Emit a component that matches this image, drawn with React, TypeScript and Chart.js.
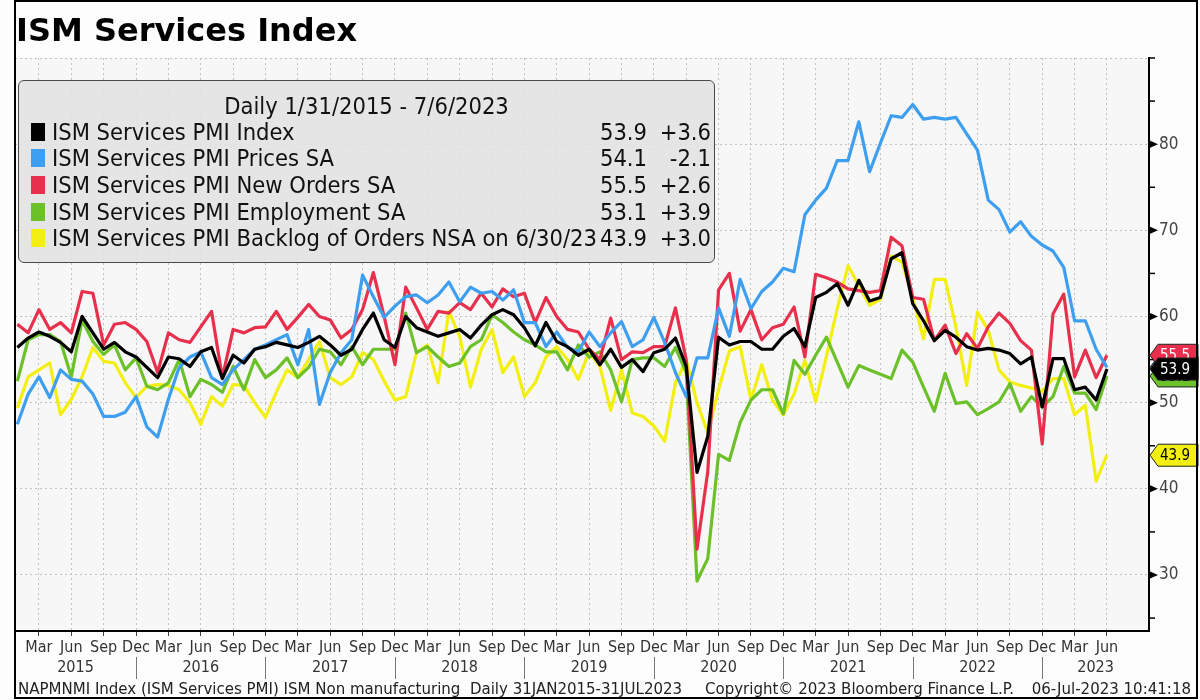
import React, { useEffect, useRef } from "react";
import { Chart, registerables } from "chart.js";

Chart.register(...registerables);

const FONT = "'DejaVu Sans Condensed', 'DejaVu Sans', sans-serif";

// ---- tick / label data ----
const QUARTER_MONTHS = ["Mar", "Jun", "Sep", "Dec"];
const YEARS = ["2015", "2016", "2017", "2018", "2019", "2020", "2021", "2022", "2023"];
const Y_TICK_LABELS = [30, 40, 50, 60, 70, 80];

// ---- series (monthly, Jan 2015 .. Jun 2023) ----
const INDEX = [
  56.4, 57.5, 58.2, 57.7, 57.0, 55.9, 60.0, 58.1, 56.2, 57.0, 55.9, 55.3,
  54.1, 52.9, 55.3, 55.1, 54.2, 55.9, 56.4, 52.8, 55.5, 54.6, 56.2, 56.5,
  57.0, 56.7, 56.4, 57.0, 57.7, 56.7, 55.5, 56.2, 58.5, 60.4, 57.3, 56.4,
  60.0, 58.7, 58.2, 57.7, 58.1, 58.5, 57.5, 59.0, 60.2, 60.8, 60.2, 58.7,
  56.6, 59.3, 57.1, 56.5, 55.5, 56.2, 54.4, 56.2, 54.1, 55.0, 53.6, 55.8,
  56.2, 57.5, 54.2, 41.9, 46.1, 57.6, 56.7, 57.1, 57.1, 56.2, 56.2, 57.7,
  58.6, 56.5, 62.2, 62.8, 63.8, 61.3, 64.2, 61.8, 62.2, 66.7, 67.4, 61.5,
  59.5, 57.2, 58.4, 57.6, 56.5, 56.1, 56.3, 56.1, 55.7, 54.5, 55.3, 49.5,
  55.1, 55.1, 51.5, 51.8, 50.3, 53.9,
];
const PRICES = [
  47.5, 51.0, 53.0, 50.6, 53.8, 52.7, 52.5, 51.0, 48.4, 48.4, 48.9, 50.7,
  47.2, 46.0, 50.4, 54.1, 55.3, 55.9, 52.9, 52.1, 53.8, 55.0, 56.2, 56.7,
  57.3, 57.9, 54.4, 58.5, 49.8, 53.5, 55.8, 57.3, 64.8, 62.3, 59.9, 61.2,
  62.3, 62.5, 61.6, 62.5, 64.0, 61.7, 63.4, 62.7, 62.9, 61.9, 63.1, 59.3,
  59.3, 56.5, 58.2, 56.4, 55.9, 58.2, 56.5, 58.1, 59.4, 56.5, 57.3, 59.9,
  57.0, 53.5, 50.7, 55.2, 55.2, 61.0, 57.7, 64.3, 60.9, 62.9, 64.0, 65.6,
  65.2, 71.8, 73.5, 74.9, 78.1, 78.1, 82.6, 76.8, 80.1, 83.3, 83.1, 84.6,
  82.9, 83.1, 82.9, 83.1, 81.2, 79.3, 73.5, 72.4, 69.8, 71.0, 69.3, 68.3,
  67.6, 65.7, 59.5, 59.5, 56.2, 54.1,
];
const NEW_ORDERS = [
  59.1, 58.1, 60.8, 58.5, 59.3, 58.1, 62.9, 62.7, 56.7, 59.1, 59.3, 58.5,
  57.1, 53.5, 58.1, 57.3, 57.0, 58.8, 60.6, 52.9, 58.5, 58.1, 58.7, 58.8,
  60.6, 58.5, 59.9, 61.4, 60.0, 59.6, 57.5, 58.5, 60.8, 65.1, 60.0, 54.4,
  63.4, 61.0, 58.5, 60.6, 60.4, 61.6, 60.8, 62.7, 61.1, 63.2, 62.3, 62.7,
  59.3, 62.2, 60.0, 58.5, 58.2, 56.2, 55.0, 59.8, 55.0, 55.9, 55.8, 56.5,
  56.5, 61.0, 55.0, 33.0, 42.0, 63.1, 65.0, 58.3, 60.8, 57.3, 58.7, 59.1,
  61.1, 55.3, 64.9, 64.5, 64.0, 63.2, 63.0, 62.8, 63.0, 69.2, 68.2, 62.2,
  62.0, 57.2, 59.0, 55.7, 58.0, 56.3, 58.8, 60.4, 59.2, 57.2, 56.1, 45.2,
  60.3, 62.6, 53.0, 56.1, 52.9, 55.5,
];
const EMPLOYMENT = [
  52.5, 57.3, 57.9, 57.9, 57.1, 53.0, 59.6, 57.1, 55.6, 56.7, 53.8, 55.2,
  51.9, 51.5, 52.3, 55.0, 50.7, 52.7, 52.1, 51.2, 54.2, 51.5, 55.0, 52.9,
  53.8, 55.2, 52.9, 54.1, 56.2, 55.9, 54.4, 56.5, 54.4, 56.2, 56.2, 56.2,
  60.4, 55.8, 56.5, 55.3, 54.2, 54.6, 56.5, 57.3, 60.2, 59.3, 58.2, 57.3,
  56.7, 55.9, 55.9, 53.8, 56.7, 55.3, 55.9, 53.8, 50.1, 55.0, 55.2, 55.2,
  54.2, 56.4, 53.5, 29.3, 31.9, 44.0, 43.3, 47.7, 50.3, 51.5, 51.5, 48.7,
  54.9, 53.3, 55.5, 57.6, 54.7, 51.8, 54.3, 53.8, 53.3, 52.8, 56.1, 54.7,
  51.8, 49.0, 53.4, 49.9, 50.1, 48.6, 49.3, 50.1, 52.2, 49.0, 50.7, 49.5,
  50.7, 54.2, 51.1, 51.1, 49.2, 53.1,
];
const BACKLOG = [
  49.4, 53.0, 53.8, 54.6, 48.6, 50.4, 53.0, 56.4, 54.8, 54.6, 52.3, 50.6,
  51.9, 52.1, 52.0, 51.5, 50.0, 47.5, 50.7, 49.6, 52.1, 52.0, 50.0, 48.3,
  51.2, 53.8, 52.9, 55.0, 57.1, 52.9, 52.1, 53.0, 55.8, 55.0, 52.5, 50.3,
  50.7, 55.8, 56.7, 52.3, 60.6, 57.7, 51.8, 56.2, 58.5, 53.5, 55.3, 50.7,
  52.3, 55.3, 56.5, 55.0, 52.7, 55.9, 54.2, 49.1, 53.8, 48.8, 48.4, 47.3,
  45.5, 52.3, 55.0, 50.0, 46.5, 51.5, 56.0, 56.5, 50.3, 54.4, 50.3, 48.6,
  51.0, 54.9, 50.1, 55.4, 60.9, 65.9, 63.6, 61.3, 62.0, 67.0, 66.3, 62.2,
  57.4, 64.3, 64.3, 58.8, 52.0, 60.5, 58.4, 53.8, 52.4, 52.0, 51.7, 51.3,
  52.8, 52.8, 48.6, 49.7, 40.9, 43.9,
];

const SERIES_NAMES = [
  "ISM Services PMI Index",
  "ISM Services PMI Prices SA",
  "ISM Services PMI New Orders SA",
  "ISM Services PMI Employment SA",
  "ISM Services PMI Backlog of Orders NSA on 6/30/23",
];
const LAST_VALUES = ["53.9", "54.1", "55.5", "53.1", "43.9"];
const CHANGES = ["+3.6", "-2.1", "+2.6", "+3.9", "+3.0"];

const SERIES_COLORS = ["#000000", "#3e9ff0", "#e8304d", "#6cc02a", "#f3ef12"];
const TAG_TEXT_COLORS = ["#ffffff", "#ffffff", "#ffffff", "#000000", "#000000"];
const TAG_DRAW_ORDER = [1, 3, 2, 0, 4];

const SERIES = [INDEX, PRICES, NEW_ORDERS, EMPLOYMENT, BACKLOG];
const LAST_INDEX = INDEX.length - 1;
const QUARTER_TICKS: number[] = [];
for (let i = 2; i <= LAST_INDEX; i += 3) QUARTER_TICKS.push(i);

const decorPlugin = {
  id: "decor",
  beforeDraw(chart: any) {
    const { ctx, chartArea: a, width, height } = chart;
    ctx.save();
    ctx.fillStyle = "#fdfdfd";
    ctx.fillRect(0, 0, width, height);
    ctx.fillStyle = "#f7f7f7";
    ctx.fillRect(a.left, a.top, a.right - a.left, a.bottom - a.top);
    ctx.restore();
  },
  afterDraw(chart: any) {
    const { ctx, chartArea: a } = chart;
    const ys = chart.scales.y;
    const xs = chart.scales.x;
    ctx.save();

    // right-axis tick marks
    ctx.fillStyle = "#000";
    ctx.strokeStyle = "#000";
    ctx.lineWidth = 1.5;
    for (let v = 25; v <= 90; v += 5) {
      const y = ys.getPixelForValue(v);
      if (Y_TICK_LABELS.includes(v)) {
        ctx.beginPath();
        ctx.moveTo(a.right, y - 4);
        ctx.lineTo(a.right + 9, y);
        ctx.lineTo(a.right, y + 4);
        ctx.closePath();
        ctx.fill();
      } else {
        ctx.beginPath();
        ctx.moveTo(a.right, y);
        ctx.lineTo(a.right + 6, y);
        ctx.stroke();
      }
    }

    // year row
    const seps: number[] = [];
    for (let k = 0; k < YEARS.length - 1; k++) seps.push(xs.getPixelForValue(11 + 12 * k));
    const bounds = [a.left, ...seps, a.right];
    ctx.fillStyle = "#333";
    ctx.font = `16px ${FONT}`;
    ctx.textAlign = "center";
    ctx.textBaseline = "middle";
    YEARS.forEach((yr, k) => ctx.fillText(yr, (bounds[k] + bounds[k + 1]) / 2, a.bottom + 37));
    ctx.strokeStyle = "#777";
    ctx.lineWidth = 1;
    seps.forEach((x) => {
      const px = Math.round(x) + 0.5;
      ctx.beginPath();
      ctx.moveTo(px, a.bottom + 26);
      ctx.lineTo(px, a.bottom + 48);
      ctx.stroke();
    });

    // last-value tags
    ctx.font = `15px ${FONT}`;
    ctx.textAlign = "left";
    TAG_DRAW_ORDER.forEach((k) => {
      const vals = SERIES[k];
      const y = ys.getPixelForValue(vals[vals.length - 1]);
      const x0 = a.right + 1;
      ctx.beginPath();
      ctx.moveTo(x0, y);
      ctx.lineTo(x0 + 8, y - 11);
      ctx.lineTo(1198, y - 11);
      ctx.lineTo(1198, y + 11);
      ctx.lineTo(x0 + 8, y + 11);
      ctx.closePath();
      ctx.fillStyle = SERIES_COLORS[k];
      ctx.fill();
      ctx.strokeStyle = "#222";
      ctx.lineWidth = 1;
      ctx.stroke();
      ctx.fillStyle = TAG_TEXT_COLORS[k];
      ctx.fillText(LAST_VALUES[k], x0 + 10, y + 1);
    });

    // outer frame
    ctx.strokeStyle = "#000";
    ctx.lineWidth = 2;
    ctx.strokeRect(15, 1, 1182, 697);
    ctx.restore();
  },
};

export default function App() {
  const canvasRef = useRef<HTMLCanvasElement | null>(null);

  useEffect(() => {
    const canvas = canvasRef.current;
    if (!canvas) return;
    const chart = new Chart(canvas, {
      type: "line",
      data: {
        datasets: SERIES.map((vals, k) => ({
          label: SERIES_NAMES[k],
          data: vals.map((v, i) => ({ x: i, y: v })),
          borderColor: SERIES_COLORS[k],
          backgroundColor: SERIES_COLORS[k],
          borderWidth: 3.2,
          pointRadius: 0,
          tension: 0,
          fill: false,
          order: k,
          borderJoinStyle: "round" as const,
        })),
      },
      options: {
        animation: false,
        responsive: false,
        events: [],
        layout: { padding: { left: 15, top: 58, right: 0, bottom: 0 } },
        plugins: { legend: { display: false }, tooltip: { enabled: false }, title: { display: false } },
        scales: {
          x: {
            type: "linear",
            min: -0.22,
            max: 104.9,
            afterBuildTicks: (scale: any) => {
              scale.ticks = QUARTER_TICKS.map((v) => ({ value: v }));
            },
            afterFit: (scale: any) => {
              scale.height = 69;
            },
            ticks: {
              autoSkip: false,
              maxRotation: 0,
              padding: 2,
              color: "#333",
              font: { family: FONT, size: 16 },
              callback: (v: any) => QUARTER_MONTHS[Math.round((Number(v) - 2) / 3) % 4],
            },
            grid: {
              color: "#c2c2c2",
              lineWidth: 1,
              drawTicks: true,
              tickLength: 5,
              tickColor: "#444",
            },
            border: { display: true, color: "#000", width: 2, dash: [2, 3] },
          },
          y: {
            type: "linear",
            position: "right",
            min: 23.5,
            max: 90,
            afterFit: (scale: any) => {
              scale.width = 51;
            },
            ticks: {
              stepSize: 5,
              padding: 10,
              color: "#444",
              font: { family: FONT, size: 17 },
              callback: (v: any) => (Y_TICK_LABELS.includes(Number(v)) ? String(v) : ""),
            },
            grid: {
              color: (c: any) => (c.tick && c.tick.value % 10 === 0 ? "#c2c2c2" : "rgba(0,0,0,0)"),
              lineWidth: 1,
              drawTicks: false,
            },
            border: { display: true, color: "#000", width: 2, dash: [2, 3] },
          },
        },
      },
      plugins: [decorPlugin],
    });
    return () => chart.destroy();
  }, []);

  const footer = { position: "absolute" as const, top: 680, fontFamily: FONT, fontSize: 16.7, lineHeight: "17px", color: "#222", whiteSpace: "pre" as const };

  return (
    <div style={{ position: "fixed", left: 0, top: 0, width: 1200, height: 700, overflow: "hidden", background: "#fdfdfd" }}>
      <canvas ref={canvasRef} width={1200} height={700} style={{ position: "absolute", left: 0, top: 0 }} />
      <div
        style={{
          position: "absolute",
          left: 16,
          top: 11,
          fontFamily: "'DejaVu Sans', sans-serif",
          fontWeight: "bold",
          fontSize: 32,
          lineHeight: "38px",
          color: "#000",
          whiteSpace: "nowrap",
        }}
      >
        ISM Services Index
      </div>
      <div
        style={{
          position: "absolute",
          left: 18,
          top: 80,
          width: 697,
          height: 183,
          boxSizing: "border-box",
          border: "1.5px solid #4a4a4a",
          borderRadius: 6,
          background: "rgba(226,226,226,0.9)",
          fontFamily: FONT,
          fontSize: 23.5,
          color: "#111",
          whiteSpace: "nowrap",
        }}
      >
        <div style={{ position: "absolute", left: 0, width: "100%", top: 12, lineHeight: "26px", textAlign: "center" }}>
          Daily 1/31/2015 - 7/6/2023
        </div>
        {SERIES_NAMES.map((name, k) => {
          const top = [38, 64, 91, 118, 144][k];
          return (
            <div key={name}>
              <div style={{ position: "absolute", left: 12, top: top + 4, width: 14, height: 18, background: SERIES_COLORS[k] }} />
              <div style={{ position: "absolute", left: 33, top, lineHeight: "26px" }}>{name}</div>
              <div style={{ position: "absolute", right: 67, top, lineHeight: "26px", textAlign: "right" }}>{LAST_VALUES[k]}</div>
              <div style={{ position: "absolute", right: 3, top, lineHeight: "26px", textAlign: "right" }}>{CHANGES[k]}</div>
            </div>
          );
        })}
      </div>
      <div style={{ ...footer, left: 18 }}>
        {"NAPMNMI Index (ISM Services PMI) ISM Non manufacturing  Daily 31JAN2015-31JUL2023"}
      </div>
      <div style={{ ...footer, left: 705 }}>{"Copyright© 2023 Bloomberg Finance L.P."}</div>
      <div style={{ ...footer, right: 9 }}>{"06-Jul-2023 10:41:18"}</div>
    </div>
  );
}
